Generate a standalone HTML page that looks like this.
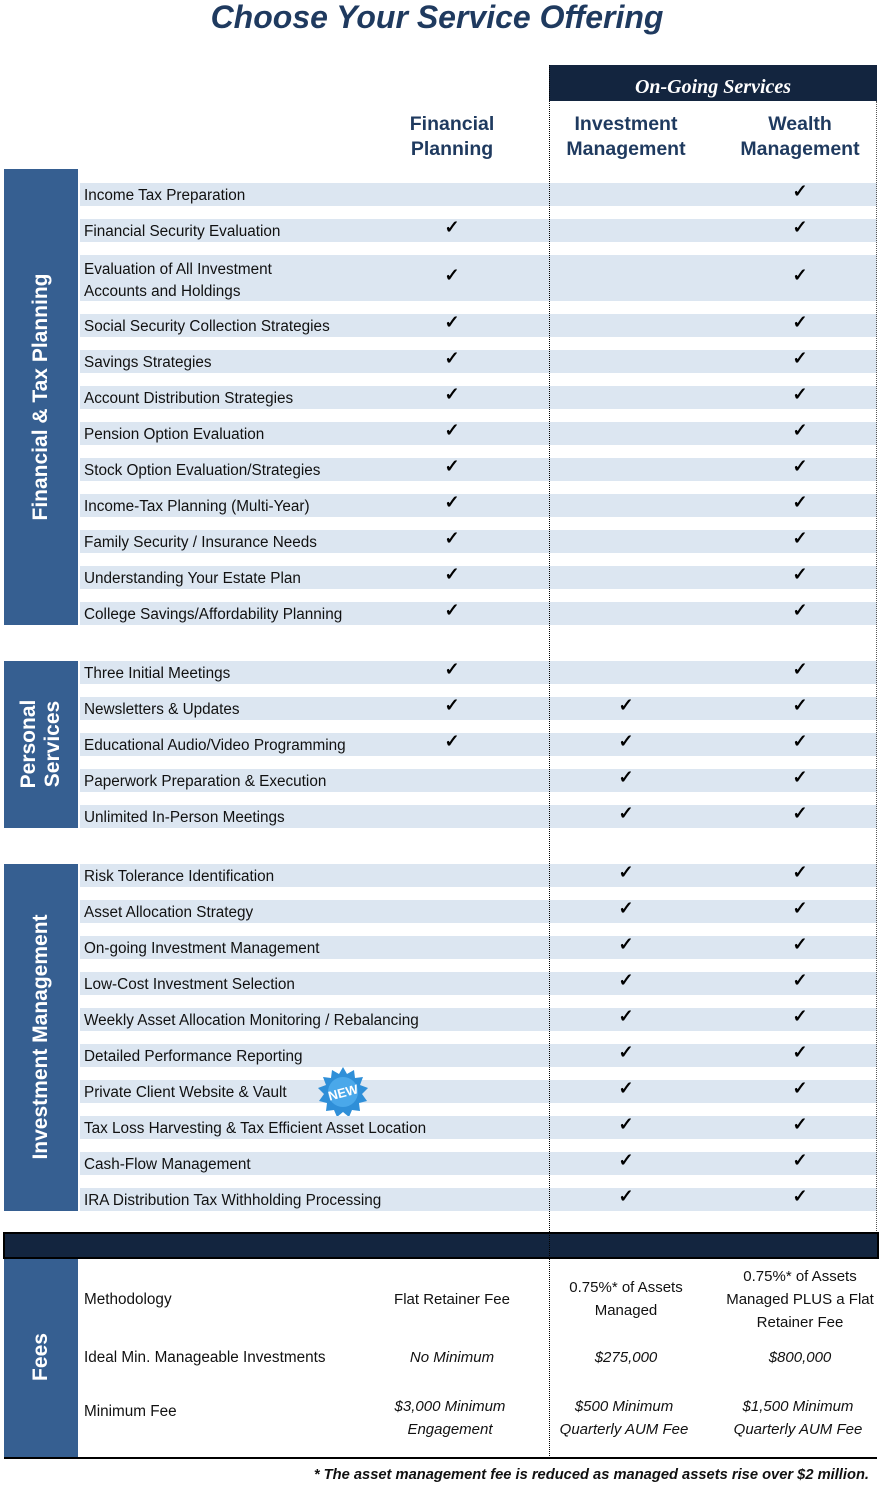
<!DOCTYPE html>
<html><head><meta charset="utf-8"><style>
body{margin:0;width:882px;height:1490px;background:#fff;position:relative;font-family:"Liberation Sans",sans-serif;overflow:hidden}
.a{position:absolute}
.band{position:absolute;left:80px;width:797px;height:23px;background:#dce6f1}
.lb{position:absolute;left:84px;font-size:15.3px;color:#111;line-height:18px}
.ck{position:absolute;font-size:18px;font-weight:bold;color:#000;width:40px;text-align:center;margin-left:-20px}
.side{position:absolute;left:4px;width:74px;background:#365f91}
.vt{position:absolute;color:#fff;font-weight:bold;font-size:21px;white-space:nowrap;transform:translate(-50%,-50%) rotate(-90deg);text-align:center;line-height:24px}
.hd{position:absolute;font-weight:bold;font-size:19.5px;color:#1f3a5f;text-align:center;line-height:25px;width:180px;margin-left:-90px}
.fv{position:absolute;font-size:15px;color:#111;text-align:center;width:176px;margin-left:-88px;line-height:23px}
.it{font-style:italic}
</style></head><body>
<div class="a" style="left:0;width:874px;top:-1px;text-align:center;font-size:32px;font-weight:bold;font-style:italic;color:#1f3a5f">Choose Your Service Offering</div>
<div class="a" style="left:549px;top:65px;width:328px;height:36px;background:#13253f"></div>
<div class="a" style="left:549px;top:76px;width:328px;text-align:center;color:#fff;font-family:'Liberation Serif',serif;font-style:italic;font-weight:bold;font-size:20px">On-Going Services</div>
<div class="hd" style="left:452px;top:112px">Financial<br>Planning</div>
<div class="hd" style="left:626px;top:112px">Investment<br>Management</div>
<div class="hd" style="left:800px;top:112px">Wealth<br>Management</div>

<div class="side" style="top:169px;height:456px"></div>
<div class="vt" style="left:41px;top:397px">Financial &amp; Tax Planning</div>
<div class="side" style="top:661px;height:167px"></div>
<div class="vt" style="left:41px;top:744px">Personal<br>Services</div>
<div class="side" style="top:864px;height:347px"></div>
<div class="vt" style="left:41px;top:1037px">Investment Management</div>

<div class="band" style="top:183px"></div><div class="lb" style="top:187px">Income Tax Preparation</div><div class="ck" style="left:800px;top:181px">✓</div>
<div class="band" style="top:219px"></div><div class="lb" style="top:223px">Financial Security Evaluation</div><div class="ck" style="left:452px;top:217px">✓</div><div class="ck" style="left:800px;top:217px">✓</div>
<div class="band" style="top:255px;height:46px"></div><div class="lb" style="top:259px;line-height:22px">Evaluation of All Investment<br>Accounts and Holdings</div><div class="ck" style="left:452px;top:265px">✓</div><div class="ck" style="left:800px;top:265px">✓</div>

<div class="band" style="top:314px"></div><div class="lb" style="top:318px">Social Security Collection Strategies</div><div class="ck" style="left:452px;top:312px">✓</div><div class="ck" style="left:800px;top:312px">✓</div>
<div class="band" style="top:350px"></div><div class="lb" style="top:354px">Savings Strategies</div><div class="ck" style="left:452px;top:348px">✓</div><div class="ck" style="left:800px;top:348px">✓</div>
<div class="band" style="top:386px"></div><div class="lb" style="top:390px">Account Distribution Strategies</div><div class="ck" style="left:452px;top:384px">✓</div><div class="ck" style="left:800px;top:384px">✓</div>
<div class="band" style="top:422px"></div><div class="lb" style="top:426px">Pension Option Evaluation</div><div class="ck" style="left:452px;top:420px">✓</div><div class="ck" style="left:800px;top:420px">✓</div>
<div class="band" style="top:458px"></div><div class="lb" style="top:462px">Stock Option Evaluation/Strategies</div><div class="ck" style="left:452px;top:456px">✓</div><div class="ck" style="left:800px;top:456px">✓</div>
<div class="band" style="top:494px"></div><div class="lb" style="top:498px">Income-Tax Planning (Multi-Year)</div><div class="ck" style="left:452px;top:492px">✓</div><div class="ck" style="left:800px;top:492px">✓</div>
<div class="band" style="top:530px"></div><div class="lb" style="top:534px">Family Security / Insurance Needs</div><div class="ck" style="left:452px;top:528px">✓</div><div class="ck" style="left:800px;top:528px">✓</div>
<div class="band" style="top:566px"></div><div class="lb" style="top:570px">Understanding Your Estate Plan</div><div class="ck" style="left:452px;top:564px">✓</div><div class="ck" style="left:800px;top:564px">✓</div>
<div class="band" style="top:602px"></div><div class="lb" style="top:606px">College Savings/Affordability Planning</div><div class="ck" style="left:452px;top:600px">✓</div><div class="ck" style="left:800px;top:600px">✓</div>

<div class="band" style="top:661px"></div><div class="lb" style="top:665px">Three Initial Meetings</div><div class="ck" style="left:452px;top:659px">✓</div><div class="ck" style="left:800px;top:659px">✓</div>
<div class="band" style="top:697px"></div><div class="lb" style="top:701px">Newsletters &amp; Updates</div><div class="ck" style="left:452px;top:695px">✓</div><div class="ck" style="left:626px;top:695px">✓</div><div class="ck" style="left:800px;top:695px">✓</div>
<div class="band" style="top:733px"></div><div class="lb" style="top:737px">Educational Audio/Video Programming</div><div class="ck" style="left:452px;top:731px">✓</div><div class="ck" style="left:626px;top:731px">✓</div><div class="ck" style="left:800px;top:731px">✓</div>
<div class="band" style="top:769px"></div><div class="lb" style="top:773px">Paperwork Preparation &amp; Execution</div><div class="ck" style="left:626px;top:767px">✓</div><div class="ck" style="left:800px;top:767px">✓</div>
<div class="band" style="top:805px"></div><div class="lb" style="top:809px">Unlimited In-Person Meetings</div><div class="ck" style="left:626px;top:803px">✓</div><div class="ck" style="left:800px;top:803px">✓</div>

<div class="band" style="top:864px"></div><div class="lb" style="top:868px">Risk Tolerance Identification</div><div class="ck" style="left:626px;top:862px">✓</div><div class="ck" style="left:800px;top:862px">✓</div>
<div class="band" style="top:900px"></div><div class="lb" style="top:904px">Asset Allocation Strategy</div><div class="ck" style="left:626px;top:898px">✓</div><div class="ck" style="left:800px;top:898px">✓</div>
<div class="band" style="top:936px"></div><div class="lb" style="top:940px">On-going Investment Management</div><div class="ck" style="left:626px;top:934px">✓</div><div class="ck" style="left:800px;top:934px">✓</div>
<div class="band" style="top:972px"></div><div class="lb" style="top:976px">Low-Cost Investment Selection</div><div class="ck" style="left:626px;top:970px">✓</div><div class="ck" style="left:800px;top:970px">✓</div>
<div class="band" style="top:1008px"></div><div class="lb" style="top:1012px">Weekly Asset Allocation Monitoring / Rebalancing</div><div class="ck" style="left:626px;top:1006px">✓</div><div class="ck" style="left:800px;top:1006px">✓</div>
<div class="band" style="top:1044px"></div><div class="lb" style="top:1048px">Detailed Performance Reporting</div><div class="ck" style="left:626px;top:1042px">✓</div><div class="ck" style="left:800px;top:1042px">✓</div>
<div class="band" style="top:1080px"></div><div class="lb" style="top:1084px">Private Client Website &amp; Vault</div><div class="ck" style="left:626px;top:1078px">✓</div><div class="ck" style="left:800px;top:1078px">✓</div>
<svg class="a" style="left:316px;top:1066px" width="54" height="52" viewBox="0 0 54 52"><polygon points="27,1 31,8 38,4 39,12 47,11 44,19 52,22 46,28 51,35 43,37 44,45 36,44 33,51 27,46 21,51 18,44 10,45 11,37 3,35 8,28 2,22 10,19 7,11 15,12 16,4 23,8" fill="#2f8fd8"/><circle cx="27" cy="26" r="15" fill="#4aa8ea"/><text x="27" y="31" text-anchor="middle" font-family="Liberation Sans" font-weight="bold" font-size="13" fill="#fff" transform="rotate(-15 27 26)">NEW</text></svg>
<div class="band" style="top:1116px"></div><div class="lb" style="top:1120px">Tax Loss Harvesting &amp; Tax Efficient Asset Location</div><div class="ck" style="left:626px;top:1114px">✓</div><div class="ck" style="left:800px;top:1114px">✓</div>
<div class="band" style="top:1152px"></div><div class="lb" style="top:1156px">Cash-Flow Management</div><div class="ck" style="left:626px;top:1150px">✓</div><div class="ck" style="left:800px;top:1150px">✓</div>
<div class="band" style="top:1188px"></div><div class="lb" style="top:1192px">IRA Distribution Tax Withholding Processing</div><div class="ck" style="left:626px;top:1186px">✓</div><div class="ck" style="left:800px;top:1186px">✓</div>

<div class="a" style="left:3px;top:1232px;width:872px;height:23px;background:#13253f;border:2px solid #000"></div>
<div class="side" style="top:1259px;height:198px"></div>
<div class="vt" style="left:41px;top:1357px">Fees</div>
<div class="a" style="left:4px;top:1457px;width:873px;height:2px;background:#000"></div>

<div class="lb" style="top:1291px">Methodology</div>
<div class="fv" style="left:452px;top:1288px">Flat Retainer Fee</div>
<div class="fv" style="left:626px;top:1276px">0.75%* of Assets<br>Managed</div>
<div class="fv" style="left:800px;top:1265px">0.75%* of Assets<br>Managed PLUS a Flat<br>Retainer Fee</div>
<div class="lb" style="top:1349px">Ideal Min. Manageable Investments</div>
<div class="fv it" style="left:452px;top:1346px">No Minimum</div>
<div class="fv it" style="left:626px;top:1346px">$275,000</div>
<div class="fv it" style="left:800px;top:1346px">$800,000</div>
<div class="lb" style="top:1403px">Minimum Fee</div>
<div class="fv it" style="left:450px;top:1395px">$3,000 Minimum<br>Engagement</div>
<div class="fv it" style="left:624px;top:1395px">$500 Minimum<br>Quarterly AUM Fee</div>
<div class="fv it" style="left:798px;top:1395px">$1,500 Minimum<br>Quarterly AUM Fee</div>

<div class="a" style="left:0;width:869px;top:1467px;text-align:right;font-size:14.7px;font-weight:bold;font-style:italic;color:#111">* The asset management fee is reduced as managed assets rise over $2 million.</div>

<div class="a" style="left:549px;top:65px;height:1393px;border-left:1px dotted #000"></div>
<div class="a" style="left:876px;top:101px;height:1130px;border-left:1px dotted #555"></div>
</body></html>
